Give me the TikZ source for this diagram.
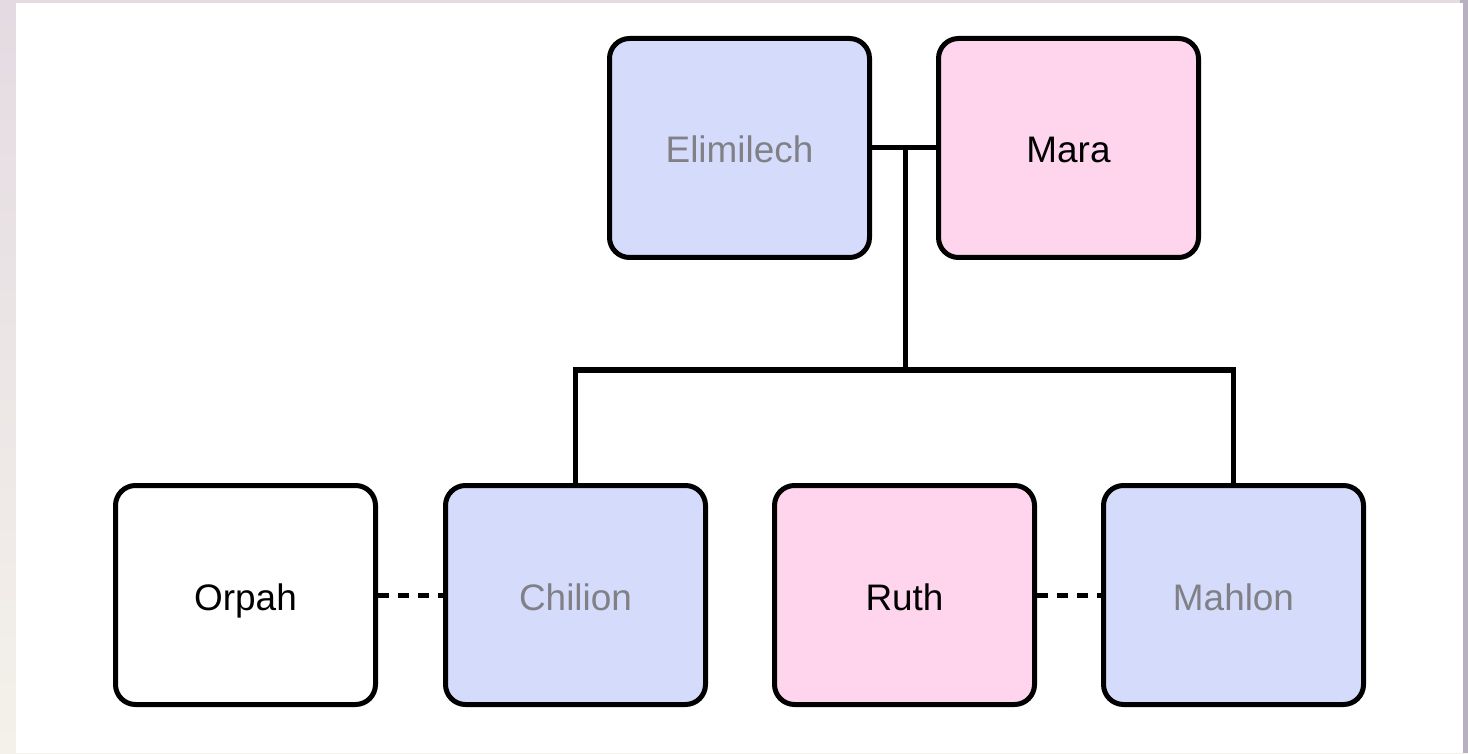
\documentclass[tikz,border=0pt]{standalone}
\usepackage{fontspec}
\setmainfont{Liberation Sans}
\usepackage{tikz}

\definecolor{manblue}{HTML}{D5DCFB}
\definecolor{womanpink}{HTML}{FFD5EE}
\definecolor{deadgray}{HTML}{808086}
\definecolor{edgetop}{HTML}{E4DBE2}
\definecolor{edgebottom}{HTML}{F4F1EA}
\definecolor{edgeright}{HTML}{B8AFC0}
\tikzset{
    person/.style={draw, rounded corners=0.4cm, line width=0.1cm, minimum width=5.2cm, minimum height=4.38cm, text height=0.72cm, text depth=0.12cm, font=\fontsize{21}{25}\selectfont},
    man/.style={person, fill=manblue},
    woman/.style={person, fill=womanpink},
    dead/.style={text=deadgray},
    bond/.style={line width=0.1cm},
    wed/.style={line width=0.1cm, dash pattern=on 0.22cm off 0.18cm}
}

\begin{document}
\begin{tikzpicture}
        \useasboundingbox (0, 0) rectangle (29.36, 15.06);
        \fill [top color=edgetop, bottom color=edgebottom] (0, 0) rectangle (29.36, 15.06);
        \fill [edgeright] (29.2, 0) rectangle (29.36, 15.06);
        \fill [white] (0.32, 0) rectangle (29.26, 15.0);

        \node [man, dead] (A1) at (14.79, 12.1) {Elimilech};
        \node [woman] (A2) at (21.37, 12.1) {Mara};

        \node [person] (B1) at (4.91, 3.16) {Orpah};
        \node [man, dead] (B2) at (11.51, 3.16) {Chilion};
        \node [woman] (B3) at (18.09, 3.16) {Ruth};
        \node [man, dead] (B4) at (24.67, 3.16) {Mahlon};

        \coordinate (J1) at (18.1, 12.1);
        \coordinate (J2) at (18.1, 7.66);

        \draw [bond] (A1) -- (A2);
        \draw [bond] (J1) -- (J2);
        \draw [bond] (B2.north) |- (J2) -| (B4.north);

        \draw [wed] (B1) -- (B2);
        \draw [wed] (B3) -- (B4);
    \end{tikzpicture}
\end{document}
